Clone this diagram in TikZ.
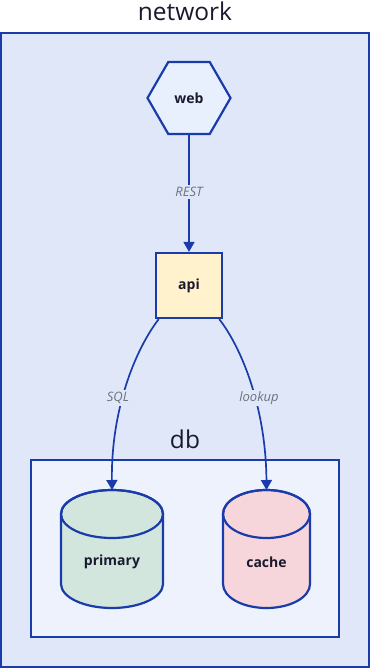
\documentclass[tikz,border=0pt]{standalone}
\usepackage{fontspec}
\setmainfont{Open Sans}
\usetikzlibrary{shapes.geometric,arrows.meta}
\definecolor{edgeblue}{RGB}{26,60,170}
\definecolor{outerfill}{RGB}{224,231,249}
\definecolor{dbfill}{RGB}{238,242,252}
\definecolor{webfill}{RGB}{232,240,254}
\definecolor{apifill}{RGB}{255,242,204}
\definecolor{primfill}{RGB}{211,230,221}
\definecolor{cachefill}{RGB}{247,214,219}
\definecolor{txt}{RGB}{26,26,46}
\definecolor{lblgray}{RGB}{107,114,128}
\tikzset{
  grp/.style={draw=edgeblue, line width=2.2pt},
  title/.style={font=\fontsize{24.5}{27}\selectfont, text=txt, anchor=base, inner sep=0},
  nodetext/.style={font=\fontsize{14}{16}\selectfont\bfseries, text=txt},
  edge/.style={draw=edgeblue, line width=1.7pt, -{Triangle[length=10pt,width=11pt]}},
  lbl/.style={font=\fontsize{13}{15}\selectfont\itshape, text=lblgray, fill=outerfill, inner sep=2pt},
  cyl/.style={draw=edgeblue, line width=2.2pt},
}
\begin{document}
\begin{tikzpicture}[x=1pt,y=-1pt]
\useasboundingbox (0,0) rectangle (370,669);
% outer group
\draw[grp, fill=outerfill] (1,33) rectangle (369,667);
\node[title] (nettitle) at (185,21) {network};
% db group
\draw[grp, fill=dbfill] (31,460) rectangle (339,637);
\node[title] (dbtitle) at (185,448) {db};
% web
\node[regular polygon, regular polygon sides=6, minimum size=83pt, inner sep=0pt,
      draw=edgeblue, line width=2.2pt, fill=webfill, nodetext] (web) at (189,98) {web};
% api
\node[draw=edgeblue, line width=2.2pt, fill=apifill, minimum width=66pt, minimum height=65pt,
      inner sep=0pt, nodetext] (api) at (189,285.5) {api};
% cylinders
\node[minimum width=102pt, minimum height=118pt, inner sep=0pt, outer sep=0pt] (primary) at (112,549) {};
\node[minimum width=87pt, minimum height=118pt, inner sep=0pt, outer sep=0pt] (cache) at (266.5,549) {};
\filldraw[cyl, fill=primfill] (61,514) -- (61,584) arc(180:360:51pt and 24pt) -- (163,514) arc(0:180:51pt and 24pt) -- cycle;
\draw[cyl] (112,514) ellipse [x radius=51pt, y radius=24pt];
\filldraw[cyl, fill=cachefill] (223,514) -- (223,584) arc(180:360:43.5pt and 24pt) -- (310,514) arc(0:180:43.5pt and 24pt) -- cycle;
\draw[cyl] (266.5,514) ellipse [x radius=43.5pt, y radius=24pt];
\node[nodetext] (primlabel) at (primary.center) [yshift=-13pt] {primary};
\node[nodetext] (cachelabel) at (cache.center) [yshift=-13pt] {cache};
% edges
\draw[edge] (web.south) -- (api.north);
\draw[edge] (api.-132) .. controls (135,350) and (111,410) .. (primary.north);
\draw[edge] (api.-48) .. controls (243,350) and (266,410) .. (cache.north);
% labels
\node[lbl] (rest) at (189,192) {REST};
\node[lbl] (sql) at (118,398) {SQL};
\node[lbl] (lookup) at (259,398) {lookup};
\end{tikzpicture}
\end{document}
